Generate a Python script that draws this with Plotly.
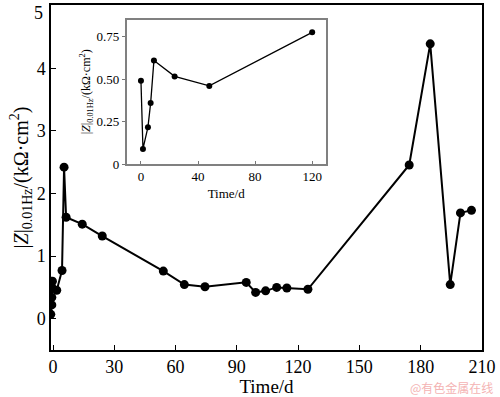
import plotly.graph_objects as go

# Main series (days, kΩ·cm²)
main_days = [-1.1, -0.6, -0.6, -0.6, -0.3, 1.8, 4.4, 5.4, 6.4, 14.3, 24.1, 54.0, 64.3, 74.4,
             94.6, 99.2, 104.1, 109.5, 114.5, 124.8, 174.4, 184.7, 194.5, 199.5, 204.9]
main_z = [0.07, 0.22, 0.34, 0.50, 0.60, 0.455, 0.77, 2.42, 1.62, 1.51, 1.32, 0.76, 0.545, 0.51,
          0.58, 0.42, 0.445, 0.50, 0.49, 0.47, 2.455, 4.39, 0.545, 1.69, 1.73]

# Inset series
inset_days = [0, 1.4, 4.9, 6.8, 9.1, 23.6, 47.9, 120]
inset_z = [0.49, 0.089, 0.217, 0.36, 0.61, 0.516, 0.46, 0.775]

main_xticks = [0, 30, 60, 90, 120, 150, 180, 210]
main_yticks = [0, 1, 2, 3, 4, 5]
main_yticktext = ["0", "1", "2", "3", "4", ""]
inset_xticks = [0, 40, 80, 120]
inset_yticks = [0, 0.25, 0.5, 0.75]
inset_yticktext = ["0", "0.25", "0.50", "0.75"]

FONT = "Times New Roman, Liberation Serif, serif"
ytitle = "|<i>Z</i>|<sub>0.01Hz</sub>/(kΩ·cm<sup>2</sup>)"

fig = go.Figure()
fig.add_trace(go.Scatter(x=main_days, y=main_z, mode="lines+markers",
                         line=dict(color="black", width=2),
                         marker=dict(color="black", size=9),
                         xaxis="x", yaxis="y", showlegend=False))
fig.add_trace(go.Scatter(x=inset_days, y=inset_z, mode="lines+markers",
                         line=dict(color="black", width=1.3),
                         marker=dict(color="black", size=6),
                         xaxis="x2", yaxis="y2", showlegend=False))

fig.update_layout(
    width=500, height=397,
    margin=dict(l=51, r=18, t=3, b=47),
    paper_bgcolor="white", plot_bgcolor="white",
    font=dict(family=FONT, color="black"),
    xaxis=dict(range=[-1, 210.05], tickvals=main_xticks, ticks="inside", ticklen=5,
               tickwidth=1.2, tickcolor="black",
               showline=True, linecolor="black", linewidth=1.5, mirror=True,
               showgrid=False, zeroline=False, tickfont=dict(size=18, family=FONT),
               title=dict(text="Time/d", font=dict(size=19, family=FONT), standoff=2)),
    yaxis=dict(range=[-0.5, 5.01], tickvals=main_yticks, ticktext=main_yticktext,
               ticks="inside", ticklen=5, tickwidth=1.2, tickcolor="black",
               showline=True, linecolor="black", linewidth=1.5, mirror=True,
               showgrid=False, zeroline=False, tickfont=dict(size=18, family=FONT),
               title=dict(text=ytitle, font=dict(size=20, family=FONT), standoff=3)),
    xaxis2=dict(domain=[0.1756, 0.6374], anchor="y2", range=[-10, 129.5],
                tickvals=inset_xticks, ticks="inside", ticklen=3, tickcolor="#777",
                showline=True, linecolor="#808080", linewidth=1.5, mirror=True,
                showgrid=False, zeroline=False, tickfont=dict(size=13, family=FONT),
                title=dict(text="Time/d", font=dict(size=13, family=FONT), standoff=6)),
    yaxis2=dict(domain=[0.539, 0.9576], anchor="x2", range=[0, 0.85],
                tickvals=inset_yticks, ticktext=inset_yticktext, ticks="outside",
                ticklen=3, tickcolor="#777",
                showline=True, linecolor="#808080", linewidth=1.5, mirror=True,
                showgrid=False, zeroline=False, tickfont=dict(size=13, family=FONT),
                title=dict(text=ytitle, font=dict(size=12, family=FONT), standoff=3)),
    annotations=[
        dict(text="5", x=0, y=(350 - 11) / 347, xref="paper", yref="paper",
             showarrow=False, xanchor="right", yanchor="middle", xshift=-6,
             font=dict(family=FONT, size=18, color="black")),
        dict(text="@有色金属在线", x=(495 - 51) / 431, y=(350 - 388) / 347,
             xref="paper", yref="paper",
             showarrow=False, xanchor="right", yanchor="middle",
             font=dict(family="Noto Sans CJK SC", size=12, color="#f4b3b3")),
    ],
)

fig.write_html("out.html", config={"displayModeBar": False})
with open("out.html", "r", encoding="utf-8") as f:
    html = f.read()
html = html.replace("<body>", '<body style="margin:0;padding:0;">', 1)
with open("out.html", "w", encoding="utf-8") as f:
    f.write(html)
